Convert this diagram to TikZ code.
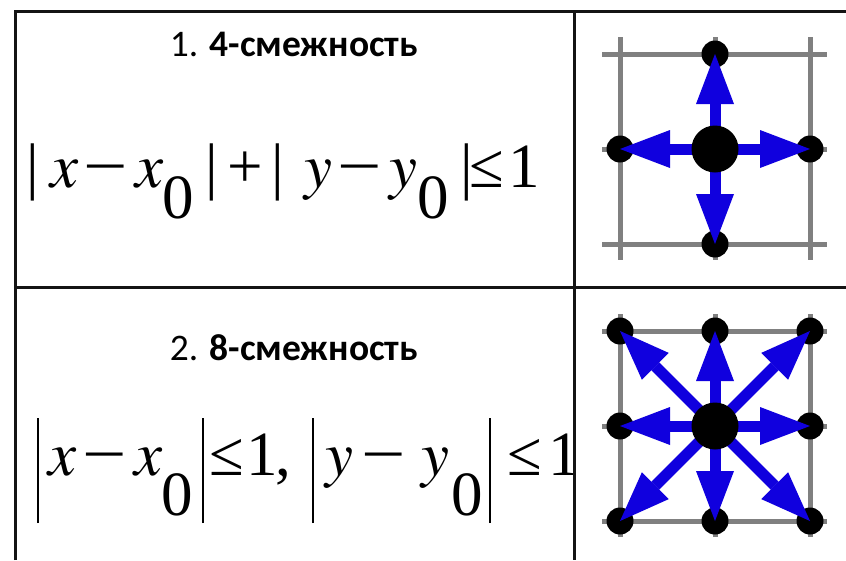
\documentclass[tikz,border=0pt]{standalone}
\usepackage{graphicx}
\usepackage{fontspec}
\newfontfamily\titlefont{Carlito}
\newfontfamily\formfont{Liberation Serif}
\newfontfamily\formit{texgyretermes-italic.otf}
\usetikzlibrary{arrows.meta}
\definecolor{arrblue}{RGB}{16,0,222}
\newcommand{\tallbar}{\rule[-48pt]{1.8pt}{105pt}}
\newcommand{\wminus}{\scalebox{1.25}[1]{−}}

\begin{document}
\begin{tikzpicture}[x=1pt, y=-1pt,
    cell/.style={line width=3pt, draw=black!92},
    grid/.style={line width=5pt, draw=black!50},
    dot/.style={circle, fill=black, inner sep=0pt, minimum size=27pt},
    hub/.style={circle, fill=black, inner sep=0pt, minimum size=47pt},
    arr/.style={-{Triangle[length=50pt, width=38pt, line width=0pt]},
      line width=11pt, draw=arrblue, fill=arrblue},
    head/.style={font=\titlefont\fontsize{37.5}{44}\selectfont, anchor=base, inner sep=0pt},
    glyph/.style={font=\formfont\fontsize{63}{74}\selectfont, anchor=base, inner sep=0pt},
  ]
  \useasboundingbox (0,0) rectangle (846,560);

  % left column: titles and formulas
  \node[head] (title4) at (294,56) {1. \textbf{4-смежность}};
  \node[head] (title8) at (294,360) {2. \textbf{8-смежность}};
  \begin{scope}
    \clip (15,11) rectangle (574,560);
    \foreach \gx/\gy/\g [count=\k] in {33/187/|, 64/187/{\formit x}, 106/187/\wminus,
        149/187/{\formit x}, 178/218/0, 212/187/|, 245/187/+, 278/187/|,
        318/187/{\formit y}, 360/187/\wminus, 403/187/{\formit y}, 433/218/0,
        467/187/|, 487/187/≤, 524/187/1}
      \node[glyph] (fa\k) at (\gx,\gy) {\g};
    \foreach \gx/\gy/\g [count=\k] in {38/475/\tallbar, 62/475/{\formit x},
        105/475/\wminus, 148/475/{\formit x}, 177/515/0, 203/475/\tallbar,
        227/475/≤, 262/475/1, 283/475/{,}, 313/475/\tallbar,
        339/475/{\formit y}, 384/475/\wminus, 435/475/{\formit y}, 467/515/0,
        490/475/\tallbar, 525/475/≤, 564/475/1}
      \node[glyph] (fb\k) at (\gx,\gy) {\g};
  \end{scope}

  % 4-neighbourhood
  \begin{scope}[shift={(715,149)}]
    \foreach \t in {-95,0,95} {
      \draw[grid] (\t,-112) -- (\t,111);
      \draw[grid] (-113,\t) -- (112,\t);
    }
    \foreach \dx/\dy [count=\k] in {0/-95, -95/0, 95/0, 0/95}
      \node[dot] (four\k) at (\dx,\dy) {};
    \coordinate (fourhub) at (0,0);
    \foreach \k in {1,...,4}
      \draw[arr] (fourhub) -- (four\k.center);
    \node[hub] (fourc) at (fourhub) {};
  \end{scope}

  % 8-neighbourhood
  \begin{scope}[shift={(715,426)}]
    \foreach \t in {-95,0,95} {
      \draw[grid] (\t,-112) -- (\t,111);
      \draw[grid] (-113,\t) -- (112,\t);
    }
    \foreach \dx/\dy [count=\k] in {-95/-95, 0/-95, 95/-95, -95/0, 95/0,
        -95/95, 0/95, 95/95}
      \node[dot] (eight\k) at (\dx,\dy) {};
    \coordinate (eighthub) at (0,0);
    \foreach \k in {1,...,8}
      \draw[arr] (eighthub) -- (eight\k.center);
    \node[hub] (eightc) at (eighthub) {};
  \end{scope}

  % table rules
  \draw[cell] (15,560) |- (846,11);
  \draw[cell] (574,11) -- (574,560);
  \draw[cell] (15,287) -- (846,287);
\end{tikzpicture}
\end{document}
